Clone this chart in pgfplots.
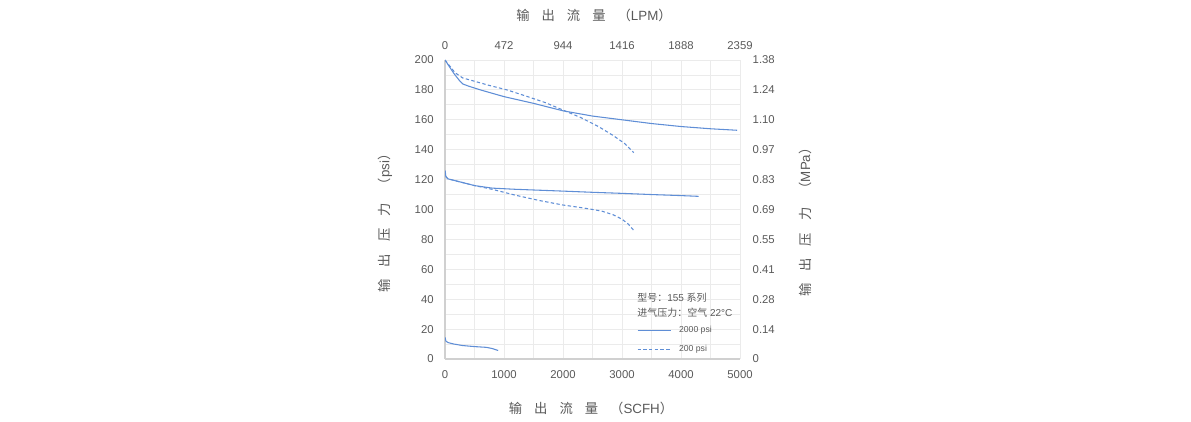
\documentclass[border=0pt]{standalone}
\usepackage{pgfplots}
\pgfplotsset{compat=1.18}
\usepackage{fontspec}
\setmainfont{Liberation Sans}
\newfontfamily\cjk{Noto Sans CJK SC}
\definecolor{txt}{HTML}{595959}
\definecolor{ln}{HTML}{5F8ED6}
\definecolor{gridc}{HTML}{EBEBEB}
\definecolor{axc}{HTML}{D0D0D0}
\begin{document}
\begin{tikzpicture}
\path[use as bounding box] (0pt,0pt) rectangle (893.25pt,315.75pt);
\pgfplotsset{
  common/.style={
    at={(333.75pt,46.5pt)}, anchor=south west, scale only axis,
    width=221.25pt, height=224.25pt,
    xmin=0, xmax=5000, ymin=0, ymax=200,
    xtick={0,1000,...,5000}, ytick={0,20,...,200},
    major tick length=0pt, minor tick length=0pt,
    scaled ticks=false,
    /pgf/number format/1000 sep={},
    /pgf/number format/assume math mode=true,
    tick label style={font=\fontsize{8.5}{10}\selectfont, color=txt},
  }
}
\begin{axis}[common,
  minor x tick num=1, minor y tick num=1,
  grid=both, grid style={gridc, line width=0.6pt},
  axis x line*=bottom, axis y line*=left,
  axis line style={axc, line width=1.1pt, -},
  xticklabel style={yshift=-5pt}, yticklabel style={xshift=-5pt},
  legend style={at={(axis cs:3254,21.7)}, anchor=north west, draw=none, fill=none,
    font=\fontsize{6.5}{7.5}\selectfont, text=txt, row sep=7.75pt,
    inner sep=0pt, outer sep=0pt, nodes={inner sep=0pt}},
  legend cell align=left,
  legend image code/.code={\draw[ln, line width=0.8pt, #1] (0pt,0pt) -- (24.75pt,0pt);},
]
\addplot[ln, line width=0.8pt] coordinates {
(0,200) (50,197) (150,191) (250,186) (300,184) (400,182.5) (600,180) (1000,175.5)
(1500,171) (2000,166) (2500,162.5) (3000,160) (3500,157.5) (4000,155.5) (4500,154) (4950,153)};
\addlegendentry{\hspace{6pt}2000 psi}
\addplot[ln, line width=0.8pt, dash pattern=on 2.5pt off 1.8pt] coordinates {
(0,200) (80,196) (170,191.5) (300,188) (480,186) (750,183) (1050,180) (1400,175.5)
(1700,171.5) (2000,166.5) (2300,161.5) (2600,155.5) (2850,149.5) (3050,144) (3200,138)};
\addlegendentry{\hspace{6pt}200 psi}
\addplot[ln, line width=0.8pt, forget plot] coordinates {
(0,126) (15,122) (50,120.5) (150,119.5) (300,118) (500,116) (800,114.3) (1200,113.5)
(2000,112.3) (2500,111.5) (3000,110.8) (3500,110) (4000,109.3) (4300,108.8)};
\addplot[ln, line width=0.8pt, dash pattern=on 2.5pt off 1.8pt, forget plot] coordinates {
(0,126) (15,122) (50,120.5) (150,119.5) (300,118) (500,116) (800,113.5) (1200,109.5)
(1600,106) (2000,103) (2350,101) (2650,99) (2850,96.5) (3000,93.5) (3100,90.5) (3200,86)};
\addplot[ln, line width=0.8pt, forget plot] coordinates {
(0,14.5) (15,12) (50,11) (150,10) (300,9) (500,8.3) (700,7.8) (800,7) (900,5.7)};
\node[anchor=west, font=\fontsize{7.5}{8}\selectfont, text=txt, inner sep=0pt] at (axis cs:3254,41.3) {{\cjk 型号：}155 {\cjk 系列}};
\node[anchor=west, font=\fontsize{7.5}{8}\selectfont, text=txt, inner sep=0pt] at (axis cs:3254,30.7) {{\cjk 进气压力：空气} 22°C};
\end{axis}
\begin{axis}[common,
  axis x line*=top, axis y line*=right,
  axis line style={draw=none},
  xticklabels={0,472,944,1416,1888,2359},
  yticklabels={0,0.14,0.28,0.41,0.55,0.69,0.83,0.97,1.10,1.24,1.38},
  xticklabel style={yshift=4pt}, yticklabel style={xshift=6pt},
]
\end{axis}
\node[font=\fontsize{10}{11}\selectfont, text=txt] at (445.5pt,304.5pt)
  {{\cjk 输\hspace{9pt}出\hspace{9pt}流\hspace{9pt}量\hspace{9pt}（}LPM{\cjk ）}};
\node[font=\fontsize{10}{11}\selectfont, text=txt] at (443.25pt,9.75pt)
  {{\cjk 输\hspace{9pt}出\hspace{9pt}流\hspace{9pt}量\hspace{9pt}（}SCFH{\cjk ）}};
\node[font=\fontsize{10}{11}\selectfont, text=txt, rotate=90] at (288.75pt,150.75pt)
  {{\cjk 输\hspace{9pt}出\hspace{9pt}压\hspace{9pt}力\hspace{9pt}（}psi{\cjk ）}};
\node[font=\fontsize{10}{11}\selectfont, text=txt, rotate=90] at (603.75pt,151.5pt)
  {{\cjk 输\hspace{9pt}出\hspace{9pt}压\hspace{9pt}力\hspace{9pt}（}MPa{\cjk ）}};
\end{tikzpicture}
\end{document}
